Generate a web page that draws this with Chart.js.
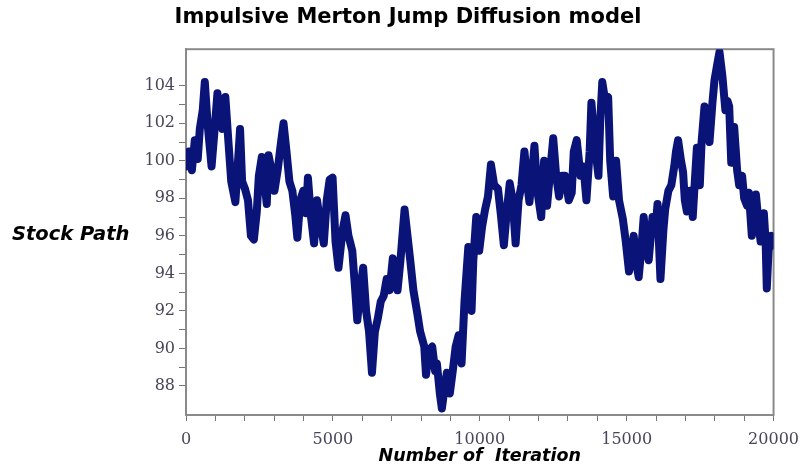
<!DOCTYPE html>
<html>
<head>
<meta charset="utf-8">
<title>Impulsive Merton Jump Diffusion model</title>
<script src="https://cdn.jsdelivr.net/npm/chart.js@4.4.0/dist/chart.umd.min.js"></script>
<style>
  html, body { margin: 0; padding: 0; background: #fff; }
  #chart { display: block; }
</style>
</head>
<body>
<canvas id="chart" width="808" height="467"></canvas>
<script>
// values
const iterations = [
  0, 100, 200, 300, 400, 470, 570, 640, 740, 870, 970, 1070, 1170, 1240, 1340, 1440, 1540, 1680, 1740, 1840,
  1910, 2010, 2110, 2210, 2310, 2410, 2480, 2580, 2680, 2750, 2810, 2910, 3010, 3120, 3220, 3320, 3420, 3520, 3620, 3720,
  3790, 3890, 3990, 4090, 4150, 4250, 4360, 4460, 4560, 4690, 4790, 4890, 4990, 5090, 5190, 5330, 5430, 5530, 5660, 5760,
  5830, 5930, 6030, 6130, 6230, 6330, 6430, 6530, 6630, 6730, 6830, 6930, 7040, 7140, 7200, 7300, 7440, 7540, 7640, 7740,
  7870, 7970, 8110, 8170, 8270, 8380, 8480, 8540, 8640, 8710, 8810, 8880, 8980, 9080, 9180, 9280, 9380, 9480, 9610, 9720,
  9780, 9880, 9980, 10080, 10180, 10280, 10380, 10490, 10620, 10720, 10820, 10920, 11020, 11120, 11220, 11320, 11420, 11520, 11620, 11690,
  11790, 11860, 11960, 12090, 12190, 12290, 12400, 12500, 12600, 12700, 12800, 12900, 13030, 13130, 13200, 13300, 13430, 13530, 13630, 13740,
  13800, 13900, 14040, 14100, 14170, 14270, 14370, 14440, 14540, 14640, 14740, 14870, 14970, 15080, 15180, 15240, 15340, 15410, 15510, 15580,
  15680, 15750, 15880, 15980, 16050, 16110, 16150, 16250, 16310, 16420, 16520, 16620, 16680, 16750, 16850, 16920, 16980, 17050, 17150, 17250,
  17320, 17390, 17490, 17550, 17650, 17760, 17820, 17920, 17990, 18090, 18160, 18260, 18360, 18430, 18490, 18560, 18660, 18760, 18830, 18930,
  19000, 19100, 19160, 19260, 19360, 19400, 19500, 19560, 19670, 19730, 19770, 19830, 19930, 20000
];
const stockPath = [
  99.7, 100.5, 99.5, 101.1, 100.1, 101.7, 102.7, 104.2, 101.9, 99.7, 101.6, 103.6, 102.2, 101.7, 103.4, 101.1, 98.9, 97.8, 99.2, 101.7,
  98.9, 98.5, 97.9, 96.0, 95.8, 97.3, 99.2, 100.2, 98.7, 97.7, 100.3, 99.5, 98.4, 99.5, 100.8, 102.0, 100.5, 98.9, 98.4, 97.1,
  95.9, 97.9, 98.4, 97.2, 99.1, 97.1, 95.6, 97.9, 96.8, 95.6, 97.9, 99.0, 99.1, 95.7, 94.3, 96.3, 97.1, 96.0, 95.2, 93.1,
  91.5, 93.1, 94.3, 92.0, 90.9, 88.7, 90.9, 91.6, 92.5, 92.8, 93.7, 93.1, 94.8, 93.9, 93.1, 94.7, 97.4, 96.0, 94.6, 93.1,
  91.9, 90.9, 90.1, 88.6, 89.9, 90.1, 88.8, 89.2, 87.6, 86.8, 88.0, 88.7, 87.6, 88.8, 90.1, 90.7, 89.2, 92.5, 95.4, 92.0,
  94.7, 97.0, 95.2, 96.5, 97.4, 98.1, 99.8, 98.7, 98.5, 97.1, 95.5, 97.3, 98.8, 97.9, 95.6, 97.9, 98.7, 100.5, 98.7, 97.8,
  99.5, 100.8, 98.4, 97.0, 100.0, 97.6, 99.5, 101.2, 99.2, 98.1, 99.2, 99.2, 97.9, 98.3, 100.5, 101.1, 99.2, 99.7, 97.9, 100.5,
  103.1, 101.1, 99.2, 102.1, 104.2, 103.2, 103.4, 100.0, 98.1, 100.0, 97.9, 96.9, 95.7, 94.1, 95.2, 96.0, 94.4, 93.8, 95.5, 97.0,
  95.2, 94.7, 97.0, 96.3, 97.7, 95.2, 93.7, 96.3, 97.4, 98.4, 98.7, 99.7, 100.5, 101.1, 100.0, 99.4, 97.9, 97.3, 98.4, 97.0,
  98.9, 100.7, 98.7, 101.0, 102.9, 101.6, 101.0, 103.1, 104.3, 105.2, 105.8, 104.5, 102.7, 103.2, 102.9, 99.9, 101.8, 99.5, 98.7, 99.2,
  98.0, 97.6, 98.3, 96.0, 97.3, 98.2, 96.5, 95.7, 97.2, 95.7, 93.2, 95.2, 96.0, 95.5
];
const yTickLabels = [88, 90, 92, 94, 96, 98, 100, 102, 104];
const xTickLabels = [0, 5000, 10000, 15000, 20000];

const chartTitle = "Impulsive Merton Jump Diffusion model";
const xTitle = "Number of  Iteration";
const yTitle = "Stock Path";

const tickFont = { family: "'DejaVu Serif', serif", size: 16 };
const tickColor = "#46465a";

// y axis title is written horizontally, so draw it by hand
const sideLabel = {
  id: "sideLabel",
  afterDraw(chart) {
    const ctx = chart.ctx;
    ctx.save();
    ctx.font = "italic bold 19.5px 'DejaVu Sans', sans-serif";
    ctx.fillStyle = "#000";
    ctx.textBaseline = "middle";
    ctx.fillText(yTitle, 12, 235);
    ctx.restore();
  },
};

// grey frame round the plot area
const frame = {
  id: "frame",
  beforeDatasetsDraw(chart) {
    const a = chart.chartArea;
    const ctx = chart.ctx;
    ctx.save();
    ctx.strokeStyle = "#8a8a8a";
    ctx.lineWidth = 2;
    ctx.strokeRect(a.left, a.top, a.right - a.left, a.bottom - a.top);
    ctx.restore();
  },
};

const ctx = document.getElementById("chart").getContext("2d");
new Chart(ctx, {
  type: "line",
  data: {
    datasets: [
      {
        data: iterations.map((x, i) => ({ x: x, y: stockPath[i] })),
        borderColor: "#0a1478",
        borderWidth: 8,
        pointRadius: 0,
        tension: 0,
        borderJoinStyle: "round",
        borderCapStyle: "round",
      },
    ],
  },
  options: {
    responsive: false,
    animation: false,
    devicePixelRatio: 1,
    layout: { padding: { left: 33, right: 25, top: 0, bottom: 0 } },
    plugins: {
      legend: { display: false },
      tooltip: { enabled: false },
      title: {
        display: true,
        text: chartTitle,
        color: "#000",
        font: { family: "'DejaVu Sans', sans-serif", size: 21, weight: "bold" },
        padding: { top: 5, bottom: 19 },
      },
    },
    scales: {
      x: {
        type: "linear",
        min: 0,
        max: 20000,
        afterFit(scale) {
          scale.height = 52;
        },
        ticks: {
          stepSize: 1000,
          autoSkip: false,
          maxRotation: 0,
          padding: 9,
          color: tickColor,
          font: tickFont,
          callback: (v) => (xTickLabels.includes(v) ? v : ""),
        },
        grid: { drawOnChartArea: false, tickLength: 6, color: "#777" },
        border: { color: "#8a8a8a", width: 2 },
        title: {
          display: true,
          text: xTitle,
          color: "#000",
          font: { family: "'DejaVu Sans', sans-serif", size: 17.5, weight: "bold", style: "italic" },
          padding: { top: 0, bottom: 0 },
        },
      },
      y: {
        min: 86.45,
        max: 105.95,
        afterFit(scale) {
          scale.width = 153;
        },
        afterBuildTicks(scale) {
          scale.ticks = scale.ticks.filter((t) => Number.isInteger(t.value));
        },
        ticks: {
          stepSize: 1,
          autoSkip: false,
          padding: 4,
          color: tickColor,
          font: tickFont,
          callback: (v) => (yTickLabels.includes(v) ? v : ""),
        },
        grid: { drawOnChartArea: false, tickLength: 7, color: "#777" },
        border: { color: "#8a8a8a", width: 2 },
      },
    },
  },
  plugins: [frame, sideLabel],
});
</script>
</body>
</html>
